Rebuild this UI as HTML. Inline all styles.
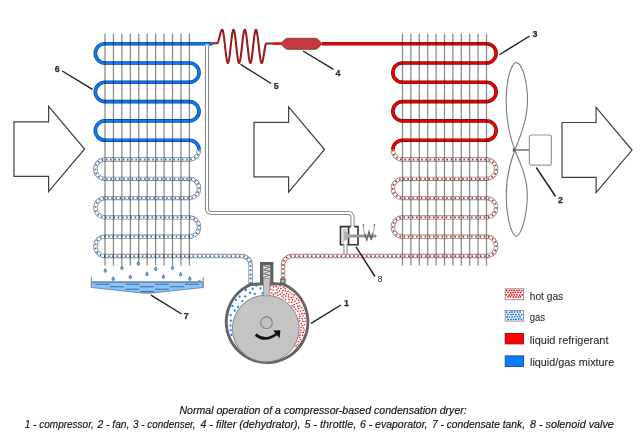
<!DOCTYPE html><html><head><meta charset="utf-8"><style>html,body{margin:0;padding:0;background:#fff;width:640px;height:444px;overflow:hidden}svg{display:block}text{font-family:"Liberation Sans",sans-serif}</style></head><body>
<svg width="640" height="444" viewBox="0 0 640 444">
<defs>
<pattern id="pr" width="3.2" height="3.2" patternUnits="userSpaceOnUse"><rect width="3.2" height="3.2" fill="#fff"/><circle cx="0.8" cy="0.8" r="0.75" fill="#f21a1a"/><circle cx="2.4" cy="2.4" r="0.75" fill="#f21a1a"/></pattern>
<pattern id="pb" width="4.5" height="4.5" patternUnits="userSpaceOnUse"><rect width="4.5" height="4.5" fill="#fff"/><circle cx="1.1" cy="1.1" r="0.8" fill="#1a7fff"/><circle cx="3.35" cy="3.35" r="0.8" fill="#1a7fff"/></pattern>
</defs>
<path d="M14 121.8 L48.6 121.8 L48.6 106.4 L84.6 149 L48.6 191.6 L48.6 176.4 L14 176.4Z" fill="none" stroke="#404040" stroke-width="1.2" stroke-linejoin="miter"/>
<path d="M254 122.3 L288.6 122.3 L288.6 106.9 L324.6 149.5 L288.6 192.1 L288.6 176.9 L254 176.9Z" fill="none" stroke="#404040" stroke-width="1.2" stroke-linejoin="miter"/>
<path d="M562 122.5 L596.1 122.5 L596.1 107.3 L632 150.1 L596.1 192.7 L596.1 177.3 L562 177.3Z" fill="none" stroke="#404040" stroke-width="1.2" stroke-linejoin="miter"/>
<path d="M207 44 L207 209 A4 4 0 0 0 211 213 L348.5 213 A4 4 0 0 1 352.5 217 L352.5 227" fill="none" stroke="#8c8c8c" stroke-width="4.2"/>
<path d="M207 44 L207 209 A4 4 0 0 0 211 213 L348.5 213 A4 4 0 0 1 352.5 217 L352.5 227" fill="none" stroke="#fff" stroke-width="2"/>
<path d="M345.5 244 L345.5 254" fill="none" stroke="#8c8c8c" stroke-width="4.2"/>
<path d="M345.5 244 L345.5 254" fill="none" stroke="#fff" stroke-width="2"/>
<path d="M212.5 43.7 L105 43.7A9.65 9.65 0 0 0 105 63L189.4 63A9.65 9.65 0 0 1 189.4 82.3L105 82.3A9.65 9.65 0 0 0 105 101.6L189.4 101.6A9.65 9.65 0 0 1 189.4 120.9L105 120.9A9.65 9.65 0 0 0 105 140.2L189.4 140.2A9.65 9.65 0 0 1 199.05 149.85" fill="none" stroke="#0b3f82" stroke-width="3.6"/>
<path d="M212.5 43.7 L105 43.7A9.65 9.65 0 0 0 105 63L189.4 63A9.65 9.65 0 0 1 189.4 82.3L105 82.3A9.65 9.65 0 0 0 105 101.6L189.4 101.6A9.65 9.65 0 0 1 189.4 120.9L105 120.9A9.65 9.65 0 0 0 105 140.2L189.4 140.2A9.65 9.65 0 0 1 199.05 149.85" fill="none" stroke="#0a7dff" stroke-width="2.2"/>
<path d="M322 43.7 L486.5 43.7A9.65 9.65 0 0 1 486.5 63L402.5 63A9.65 9.65 0 0 0 402.5 82.3L486.5 82.3A9.65 9.65 0 0 1 486.5 101.6L402.5 101.6A9.65 9.65 0 0 0 402.5 120.9L486.5 120.9A9.65 9.65 0 0 1 486.5 140.2L402.5 140.2A9.65 9.65 0 0 0 392.85 149.85" fill="none" stroke="#7a0808" stroke-width="3.6"/>
<path d="M322 43.7 L486.5 43.7A9.65 9.65 0 0 1 486.5 63L402.5 63A9.65 9.65 0 0 0 402.5 82.3L486.5 82.3A9.65 9.65 0 0 1 486.5 101.6L402.5 101.6A9.65 9.65 0 0 0 402.5 120.9L486.5 120.9A9.65 9.65 0 0 1 486.5 140.2L402.5 140.2A9.65 9.65 0 0 0 392.85 149.85" fill="none" stroke="#f00000" stroke-width="2.2"/>
<path d="M199.05 149.85A9.65 9.65 0 0 1 189.4 159.5L105 159.5A9.65 9.65 0 0 0 105 178.8L189.4 178.8A9.65 9.65 0 0 1 189.4 198.1L105 198.1A9.65 9.65 0 0 0 105 217.4L189.4 217.4A9.65 9.65 0 0 1 189.4 236.7L105 236.7A9.65 9.65 0 0 0 105 256L241.6 256 A9 9 0 0 1 250.6 265 L250.6 285" fill="none" stroke="#888" stroke-width="4.3"/>
<path d="M199.05 149.85A9.65 9.65 0 0 1 189.4 159.5L105 159.5A9.65 9.65 0 0 0 105 178.8L189.4 178.8A9.65 9.65 0 0 1 189.4 198.1L105 198.1A9.65 9.65 0 0 0 105 217.4L189.4 217.4A9.65 9.65 0 0 1 189.4 236.7L105 236.7A9.65 9.65 0 0 0 105 256L241.6 256 A9 9 0 0 1 250.6 265 L250.6 285" fill="none" stroke="#fff" stroke-width="2.5"/>
<path d="M199.05 149.85A9.65 9.65 0 0 1 189.4 159.5L105 159.5A9.65 9.65 0 0 0 105 178.8L189.4 178.8A9.65 9.65 0 0 1 189.4 198.1L105 198.1A9.65 9.65 0 0 0 105 217.4L189.4 217.4A9.65 9.65 0 0 1 189.4 236.7L105 236.7A9.65 9.65 0 0 0 105 256L241.6 256 A9 9 0 0 1 250.6 265 L250.6 285" fill="none" stroke="#106ae0" stroke-width="1.75" stroke-dasharray="1.5 2.72"/>
<path d="M392.85 149.85A9.65 9.65 0 0 0 402.5 159.5L486.5 159.5A9.65 9.65 0 0 1 486.5 178.8L402.5 178.8A9.65 9.65 0 0 0 402.5 198.1L486.5 198.1A9.65 9.65 0 0 1 486.5 217.4L402.5 217.4A9.65 9.65 0 0 0 402.5 236.7L486.5 236.7A9.65 9.65 0 0 1 486.5 256L402.5 256L292 256 A9 9 0 0 0 283 265 L283 281" fill="none" stroke="#888" stroke-width="4.3"/>
<path d="M392.85 149.85A9.65 9.65 0 0 0 402.5 159.5L486.5 159.5A9.65 9.65 0 0 1 486.5 178.8L402.5 178.8A9.65 9.65 0 0 0 402.5 198.1L486.5 198.1A9.65 9.65 0 0 1 486.5 217.4L402.5 217.4A9.65 9.65 0 0 0 402.5 236.7L486.5 236.7A9.65 9.65 0 0 1 486.5 256L402.5 256L292 256 A9 9 0 0 0 283 265 L283 281" fill="none" stroke="#fff" stroke-width="2.5"/>
<path d="M392.85 149.85A9.65 9.65 0 0 0 402.5 159.5L486.5 159.5A9.65 9.65 0 0 1 486.5 178.8L402.5 178.8A9.65 9.65 0 0 0 402.5 198.1L486.5 198.1A9.65 9.65 0 0 1 486.5 217.4L402.5 217.4A9.65 9.65 0 0 0 402.5 236.7L486.5 236.7A9.65 9.65 0 0 1 486.5 256L402.5 256L292 256 A9 9 0 0 0 283 265 L283 281" fill="none" stroke="#d81010" stroke-width="1.75" stroke-dasharray="1.5 2.72"/>
<path d="M105 33.6V265.4M113.44 33.6V265.4M121.88 33.6V265.4M130.32 33.6V265.4M138.76 33.6V265.4M147.2 33.6V265.4M155.64 33.6V265.4M164.08 33.6V265.4M172.52 33.6V265.4M180.96 33.6V265.4M189.4 33.6V265.4M402.5 33.6V265.4M410.9 33.6V265.4M419.3 33.6V265.4M427.7 33.6V265.4M436.1 33.6V265.4M444.5 33.6V265.4M452.9 33.6V265.4M461.3 33.6V265.4M469.7 33.6V265.4M478.1 33.6V265.4M486.5 33.6V265.4" fill="none" stroke="#8a8a8a" stroke-width="1.25" style="mix-blend-mode:multiply"/>
<path d="M212.5 43.3 L217 43.3 L217.32 43.17 L217.65 42.78 L217.97 42.15 L218.3 41.31 L218.62 40.28 L218.95 39.1 L219.28 37.83 L219.6 36.5 L219.92 35.17 L220.25 33.9 L220.57 32.72 L220.9 31.69 L221.22 30.85 L221.55 30.22 L221.88 29.83 L222.2 29.7 L222.56 30.02 L222.91 30.97 L223.27 32.51 L223.62 34.58 L223.98 37.1 L224.34 39.98 L224.69 43.1 L225.05 46.35 L225.41 49.6 L225.76 52.72 L226.12 55.6 L226.47 58.12 L226.83 60.19 L227.19 61.73 L227.54 62.68 L227.9 63 L228.25 62.68 L228.6 61.73 L228.95 60.19 L229.3 58.12 L229.65 55.6 L230 52.72 L230.35 49.6 L230.7 46.35 L231.05 43.1 L231.4 39.98 L231.75 37.1 L232.1 34.58 L232.45 32.51 L232.8 30.97 L233.15 30.02 L233.5 29.7 L233.85 30.02 L234.2 30.97 L234.55 32.51 L234.9 34.58 L235.25 37.1 L235.6 39.98 L235.95 43.1 L236.3 46.35 L236.65 49.6 L237 52.72 L237.35 55.6 L237.7 58.12 L238.05 60.19 L238.4 61.73 L238.75 62.68 L239.1 63 L239.46 62.68 L239.81 61.73 L240.17 60.19 L240.53 58.12 L240.88 55.6 L241.24 52.72 L241.59 49.6 L241.95 46.35 L242.31 43.1 L242.66 39.98 L243.02 37.1 L243.38 34.58 L243.73 32.51 L244.09 30.97 L244.44 30.02 L244.8 29.7 L245.15 30.02 L245.5 30.97 L245.85 32.51 L246.2 34.58 L246.55 37.1 L246.9 39.98 L247.25 43.1 L247.6 46.35 L247.95 49.6 L248.3 52.72 L248.65 55.6 L249 58.12 L249.35 60.19 L249.7 61.73 L250.05 62.68 L250.4 63 L250.74 62.68 L251.09 61.73 L251.43 60.19 L251.78 58.12 L252.12 55.6 L252.46 52.72 L252.81 49.6 L253.15 46.35 L253.49 43.1 L253.84 39.98 L254.18 37.1 L254.53 34.58 L254.87 32.51 L255.21 30.97 L255.56 30.02 L255.9 29.7 L256.26 30.02 L256.62 30.97 L256.99 32.51 L257.35 34.58 L257.71 37.1 L258.07 39.98 L258.44 43.1 L258.8 46.35 L259.16 49.6 L259.52 52.72 L259.89 55.6 L260.25 58.12 L260.61 60.19 L260.97 61.73 L261.34 62.68 L261.7 63 L261.99 62.81 L262.29 62.25 L262.58 61.35 L262.88 60.13 L263.17 58.64 L263.46 56.95 L263.76 55.11 L264.05 53.2 L264.34 51.29 L264.64 49.45 L264.93 47.76 L265.22 46.27 L265.52 45.05 L265.81 44.15 L266.11 43.59 L266.4 43.4 L274 43.5" fill="none" stroke="#8a1212" stroke-width="2.0" stroke-linejoin="round"/>
<path d="M212.5 43.3 L217 43.3 L217.32 43.17 L217.65 42.78 L217.97 42.15 L218.3 41.31 L218.62 40.28 L218.95 39.1 L219.28 37.83 L219.6 36.5 L219.92 35.17 L220.25 33.9 L220.57 32.72 L220.9 31.69 L221.22 30.85 L221.55 30.22 L221.88 29.83 L222.2 29.7 L222.56 30.02 L222.91 30.97 L223.27 32.51 L223.62 34.58 L223.98 37.1 L224.34 39.98 L224.69 43.1 L225.05 46.35 L225.41 49.6 L225.76 52.72 L226.12 55.6 L226.47 58.12 L226.83 60.19 L227.19 61.73 L227.54 62.68 L227.9 63 L228.25 62.68 L228.6 61.73 L228.95 60.19 L229.3 58.12 L229.65 55.6 L230 52.72 L230.35 49.6 L230.7 46.35 L231.05 43.1 L231.4 39.98 L231.75 37.1 L232.1 34.58 L232.45 32.51 L232.8 30.97 L233.15 30.02 L233.5 29.7 L233.85 30.02 L234.2 30.97 L234.55 32.51 L234.9 34.58 L235.25 37.1 L235.6 39.98 L235.95 43.1 L236.3 46.35 L236.65 49.6 L237 52.72 L237.35 55.6 L237.7 58.12 L238.05 60.19 L238.4 61.73 L238.75 62.68 L239.1 63 L239.46 62.68 L239.81 61.73 L240.17 60.19 L240.53 58.12 L240.88 55.6 L241.24 52.72 L241.59 49.6 L241.95 46.35 L242.31 43.1 L242.66 39.98 L243.02 37.1 L243.38 34.58 L243.73 32.51 L244.09 30.97 L244.44 30.02 L244.8 29.7 L245.15 30.02 L245.5 30.97 L245.85 32.51 L246.2 34.58 L246.55 37.1 L246.9 39.98 L247.25 43.1 L247.6 46.35 L247.95 49.6 L248.3 52.72 L248.65 55.6 L249 58.12 L249.35 60.19 L249.7 61.73 L250.05 62.68 L250.4 63 L250.74 62.68 L251.09 61.73 L251.43 60.19 L251.78 58.12 L252.12 55.6 L252.46 52.72 L252.81 49.6 L253.15 46.35 L253.49 43.1 L253.84 39.98 L254.18 37.1 L254.53 34.58 L254.87 32.51 L255.21 30.97 L255.56 30.02 L255.9 29.7 L256.26 30.02 L256.62 30.97 L256.99 32.51 L257.35 34.58 L257.71 37.1 L258.07 39.98 L258.44 43.1 L258.8 46.35 L259.16 49.6 L259.52 52.72 L259.89 55.6 L260.25 58.12 L260.61 60.19 L260.97 61.73 L261.34 62.68 L261.7 63 L261.99 62.81 L262.29 62.25 L262.58 61.35 L262.88 60.13 L263.17 58.64 L263.46 56.95 L263.76 55.11 L264.05 53.2 L264.34 51.29 L264.64 49.45 L264.93 47.76 L265.22 46.27 L265.52 45.05 L265.81 44.15 L266.11 43.59 L266.4 43.4 L274 43.5" fill="none" stroke="#d63030" stroke-width="0.7" stroke-dasharray="1.2 1.2"/>
<path d="M273.5 43.6 L281 43.6" stroke="#e00" stroke-width="2.6"/>
<path d="M280.3 43.7 L285.6 38.9 Q286.4 38.3 287.4 38.3 L315.6 38.3 Q316.6 38.3 317.4 38.9 L322.3 43.7 L317.4 48.6 Q316.6 49.3 315.6 49.3 L287.4 49.3 Q286.4 49.3 285.6 48.6Z" fill="#c13a3d" stroke="#8e2b2b" stroke-width="0.8" stroke-linejoin="round"/>
<rect x="205.2" y="44.2" width="3.6" height="1.6" fill="#cfe3ff"/>
<path d="M91.5 282 H203.2 V287.5 L150 293.2 H144 L91.5 287.5Z" fill="#8cc3f6" stroke="#4d7fb5" stroke-width="0.8"/>
<path d="M91.3 276.6 V288 M203.2 277 V288" fill="none" stroke="#888" stroke-width="1"/>
<path d="M91.5 282 H203.2" stroke="#5a7ea8" stroke-width="1"/>
<path d="M95.5 284.2h13.8M125.5 284.2h13.8M155 284.2h13.8M185 284.2h13.8M110 286.8h13.8M140 286.8h13.8M170 286.8h13.8M125.5 289.3h13.8M155 289.3h13.8M140 291.6h13.8" stroke="#3c6aa0" stroke-width="1.1"/>
<path d="M198 280.2 L201 280.2 L199.5 282Z" fill="#777"/>
<path d="M105.3 268.6 L106.42 270.6 A1.25 1.25 0 1 1 104.18 270.6 Z" fill="#6ab2f8" stroke="#3a6aa6" stroke-width="0.85"/>
<path d="M113.3 276.7 L114.42 278.7 A1.25 1.25 0 1 1 112.18 278.7 Z" fill="#6ab2f8" stroke="#3a6aa6" stroke-width="0.85"/>
<path d="M121.9 265.8 L123.02 267.8 A1.25 1.25 0 1 1 120.78 267.8 Z" fill="#6ab2f8" stroke="#3a6aa6" stroke-width="0.85"/>
<path d="M130.3 274.9 L131.42 276.9 A1.25 1.25 0 1 1 129.18 276.9 Z" fill="#6ab2f8" stroke="#3a6aa6" stroke-width="0.85"/>
<path d="M138.3 261.2 L139.42 263.2 A1.25 1.25 0 1 1 137.18 263.2 Z" fill="#6ab2f8" stroke="#3a6aa6" stroke-width="0.85"/>
<path d="M147 271.9 L148.12 273.9 A1.25 1.25 0 1 1 145.88 273.9 Z" fill="#6ab2f8" stroke="#3a6aa6" stroke-width="0.85"/>
<path d="M155.8 266.8 L156.92 268.8 A1.25 1.25 0 1 1 154.68 268.8 Z" fill="#6ab2f8" stroke="#3a6aa6" stroke-width="0.85"/>
<path d="M163.4 274.6 L164.52 276.6 A1.25 1.25 0 1 1 162.28 276.6 Z" fill="#6ab2f8" stroke="#3a6aa6" stroke-width="0.85"/>
<path d="M172.5 265.8 L173.62 267.8 A1.25 1.25 0 1 1 171.38 267.8 Z" fill="#6ab2f8" stroke="#3a6aa6" stroke-width="0.85"/>
<path d="M180.6 272.3 L181.72 274.3 A1.25 1.25 0 1 1 179.48 274.3 Z" fill="#6ab2f8" stroke="#3a6aa6" stroke-width="0.85"/>
<path d="M189.8 276.6 L190.92 278.6 A1.25 1.25 0 1 1 188.68 278.6 Z" fill="#6ab2f8" stroke="#3a6aa6" stroke-width="0.85"/>
<circle cx="267.1" cy="321.8" r="40.8" fill="#fff"/>
<g fill="#1a80ff"><circle cx="250.12" cy="292.95" r="1.15"/><circle cx="260.67" cy="288.38" r="1.15"/><circle cx="230.68" cy="315.08" r="1.15"/><circle cx="232.46" cy="305.89" r="1.15"/><circle cx="238.01" cy="306.89" r="1.15"/><circle cx="252.71" cy="288.76" r="1.15"/><circle cx="245.3" cy="296.41" r="1.15"/><circle cx="262.51" cy="293.42" r="1.15"/><circle cx="242.28" cy="301.08" r="1.15"/><circle cx="254.89" cy="293.81" r="1.15"/><circle cx="230.76" cy="330.36" r="1.15"/><circle cx="235.85" cy="299.98" r="1.15"/><circle cx="234.84" cy="310.67" r="1.15"/><circle cx="245.95" cy="290.25" r="1.15"/><circle cx="239.53" cy="296.65" r="1.15"/><circle cx="230.51" cy="325.54" r="1.15"/><circle cx="230.84" cy="320.63" r="1.15"/><circle cx="256.25" cy="285.57" r="1.15"/><circle cx="231.42" cy="334.89" r="1.15"/></g>
<g fill="#f01818"><circle cx="280.06" cy="294.27" r="0.82"/><circle cx="302.93" cy="321.34" r="0.82"/><circle cx="277.84" cy="295.26" r="0.82"/><circle cx="282.19" cy="292.6" r="0.82"/><circle cx="300.74" cy="339.74" r="0.82"/><circle cx="301.02" cy="329.95" r="0.82"/><circle cx="285.58" cy="299.46" r="0.82"/><circle cx="302.93" cy="316.04" r="0.82"/><circle cx="302.65" cy="335.24" r="0.82"/><circle cx="291.79" cy="302.34" r="0.82"/><circle cx="275.38" cy="293.31" r="0.82"/><circle cx="300.02" cy="305.86" r="0.82"/><circle cx="287.85" cy="291.51" r="0.82"/><circle cx="273.15" cy="289.98" r="0.82"/><circle cx="304.58" cy="324.5" r="0.82"/><circle cx="299.01" cy="314.01" r="0.82"/><circle cx="285.28" cy="288.58" r="0.82"/><circle cx="273.52" cy="286.73" r="0.82"/><circle cx="298.62" cy="341.74" r="0.82"/><circle cx="280.69" cy="288.47" r="0.82"/><circle cx="292.6" cy="299.87" r="0.82"/><circle cx="288.52" cy="294.72" r="0.82"/><circle cx="301.85" cy="307.87" r="0.82"/><circle cx="276.21" cy="286.69" r="0.82"/><circle cx="297.72" cy="306.38" r="0.82"/><circle cx="299.67" cy="337.61" r="0.82"/><circle cx="276.8" cy="290.05" r="0.82"/><circle cx="300.3" cy="311.05" r="0.82"/><circle cx="299.06" cy="302.54" r="0.82"/><circle cx="304.22" cy="330.09" r="0.82"/><circle cx="283.39" cy="298" r="0.82"/><circle cx="302.54" cy="325.5" r="0.82"/><circle cx="295.79" cy="309.23" r="0.82"/><circle cx="296.46" cy="298.66" r="0.82"/><circle cx="296.1" cy="346.17" r="0.82"/><circle cx="299.85" cy="321.08" r="0.82"/><circle cx="302.17" cy="318.81" r="0.82"/><circle cx="294.95" cy="300.96" r="0.82"/><circle cx="305.27" cy="321.51" r="0.82"/><circle cx="279.48" cy="291.08" r="0.82"/><circle cx="296.82" cy="303.51" r="0.82"/><circle cx="289.05" cy="302.25" r="0.82"/><circle cx="303.34" cy="328.01" r="0.82"/><circle cx="301.84" cy="313.69" r="0.82"/><circle cx="292.23" cy="305.86" r="0.82"/><circle cx="301.16" cy="323.65" r="0.82"/><circle cx="283.88" cy="294.71" r="0.82"/><circle cx="300.6" cy="332.46" r="0.82"/><circle cx="291.97" cy="294.02" r="0.82"/><circle cx="282.99" cy="290.37" r="0.82"/><circle cx="293.08" cy="296.99" r="0.82"/><circle cx="271.79" cy="292.99" r="0.82"/><circle cx="288.55" cy="296.99" r="0.82"/><circle cx="281.98" cy="296.23" r="0.82"/><circle cx="289.06" cy="299.62" r="0.82"/><circle cx="294.08" cy="307.19" r="0.82"/><circle cx="300.03" cy="335.19" r="0.82"/><circle cx="299.87" cy="316.3" r="0.82"/><circle cx="270.73" cy="289.32" r="0.82"/><circle cx="301.16" cy="327.28" r="0.82"/><circle cx="297.82" cy="311.23" r="0.82"/><circle cx="278.24" cy="288.08" r="0.82"/><circle cx="277.53" cy="292.56" r="0.82"/><circle cx="303.1" cy="310.5" r="0.82"/><circle cx="285.79" cy="295.97" r="0.82"/><circle cx="286.42" cy="293.56" r="0.82"/><circle cx="305.07" cy="318.32" r="0.82"/><circle cx="290.12" cy="292.51" r="0.82"/><circle cx="280.06" cy="286.03" r="0.82"/><circle cx="297.6" cy="344.25" r="0.82"/><circle cx="294.18" cy="304.61" r="0.82"/><circle cx="298.65" cy="308.48" r="0.82"/><circle cx="270.54" cy="286.18" r="0.82"/><circle cx="285.36" cy="291.12" r="0.82"/><circle cx="303.26" cy="332.43" r="0.82"/><circle cx="304.25" cy="313.52" r="0.82"/><circle cx="294.2" cy="294.9" r="0.82"/><circle cx="283.39" cy="287.27" r="0.82"/><circle cx="298.35" cy="300.32" r="0.82"/><circle cx="290.94" cy="297.84" r="0.82"/><circle cx="273.46" cy="294.5" r="0.82"/><circle cx="299.23" cy="318.57" r="0.82"/></g>
<path d="M250.4 284.57 A40.8 40.8 0 1 0 283 284.23 L273.6 283.63 L260 283.97 Z" fill="none" stroke="#646464" stroke-width="3"/>
<circle cx="265.8" cy="328.6" r="33.4" fill="#c4c4c4" stroke="#7a7a7a" stroke-width="0.9"/>
<circle cx="266.5" cy="322.7" r="5.8" fill="#c4c4c4" stroke="#808080" stroke-width="1.1"/>
<path d="M255.6 334.6 Q265 342.6 276.6 334" fill="none" stroke="#111" stroke-width="2.7"/>
<path d="M273.2 330.6 L280.4 330.2 L279.6 338.2Z" fill="#111"/>
<path d="M261.6 283 V263.6 H271.8 V283" fill="#e8e8e8" stroke="#5e5e5e" stroke-width="3.2"/>
<path d="M263.2 265.8 L270.2 267.2 L263.2 269.8 L270.2 271.2 L263.2 273.8 L270.2 275.2 L263.2 277.6" fill="none" stroke="#7a7a7a" stroke-width="1.1"/>
<rect x="263.6" y="278.3" width="6.2" height="17.6" fill="#c4c4c4" stroke="#8a8a8a" stroke-width="0.8"/>
<rect x="280.8" y="279" width="4.2" height="4.2" fill="#bbb" stroke="#444" stroke-width="1"/>
<path d="M516.4 62.5 C510.5 63.5 506.2 82 506.2 100.6 C506.2 120 510 137 514.8 150 C520 137 527.5 120 527.5 100.6 C527.5 82 522.5 63.5 516.4 62.5Z" fill="none" stroke="#7a7a7a" stroke-width="1.1"/>
<path d="M514.8 150 C510 163 506.2 177 506.2 194.6 C506.2 214 510.5 234 516.3 236.6 C522 234 527.3 214 527.3 194.6 C527.3 177 520 163 514.8 150Z" fill="none" stroke="#7a7a7a" stroke-width="1.1"/>
<path d="M514.5 150 H529.5" stroke="#777" stroke-width="1.6"/>
<path d="M512.8 148 L515.5 150 L512.8 152Z" fill="#555"/>
<rect x="529.4" y="135" width="22" height="30.2" rx="2.2" fill="#fff" stroke="#999" stroke-width="1.2"/>
<path d="M350.7 226.6 H340.5 V244.7 H343.3" fill="none" stroke="#333" stroke-width="1.6"/>
<path d="M354.3 226.6 H358 V244.7 H347.5 M348.6 226.6 V244.7" fill="none" stroke="#333" stroke-width="1.6"/>
<path d="M343.2 244.5 V229.6 H347.3 V244.5" fill="none" stroke="#aaa" stroke-width="0.8"/>
<path d="M344.3 230.4 L350.4 235.8 L344.3 241.1Z" fill="#b0b0b0" stroke="#9a9a9a" stroke-width="0.6"/>
<path d="M350 236 H375.5" stroke="#959595" stroke-width="3"/>
<path d="M375 234.3 L377 236 L375 237.7Z" fill="#888"/>
<path d="M364.5 233.2 L366.8 240.2 L369 231.6 L371.3 240.2 L373 233" fill="none" stroke="#606060" stroke-width="1.2"/>
<path d="M363.4 224.8 Q363.2 230 364.5 233.2 M374.4 224.8 Q374.6 230 373 233" fill="none" stroke="#888" stroke-width="0.8"/>
<circle cx="363.4" cy="225" r="0.9" fill="#777"/><circle cx="374.4" cy="225" r="0.9" fill="#777"/>
<path d="M311 323.4L341 305M536.25 167.5L555.6 196.5M499.4 54.75L529.75 36M303 51L333.5 69.4M240.6 64.4L271.25 83.5M62.25 71L92.5 89.4M151 295.2L181.6 314M356 246.9L375 276.5" stroke="#222" stroke-width="1.45"/>
<text x="344" y="306" font-size="8.8" font-weight="bold" fill="#2a2a2a" stroke="#2a2a2a" stroke-width="0.25">1</text>
<text x="558" y="202.5" font-size="8.8" font-weight="bold" fill="#2a2a2a" stroke="#2a2a2a" stroke-width="0.25">2</text>
<text x="532.5" y="37" font-size="8.8" font-weight="bold" fill="#2a2a2a" stroke="#2a2a2a" stroke-width="0.25">3</text>
<text x="335.6" y="76" font-size="8.8" font-weight="bold" fill="#2a2a2a" stroke="#2a2a2a" stroke-width="0.25">4</text>
<text x="273.7" y="89" font-size="8.8" font-weight="bold" fill="#2a2a2a" stroke="#2a2a2a" stroke-width="0.25">5</text>
<text x="54.7" y="72" font-size="8.8" font-weight="bold" fill="#2a2a2a" stroke="#2a2a2a" stroke-width="0.25">6</text>
<text x="183.7" y="319" font-size="8.8" font-weight="bold" fill="#2a2a2a" stroke="#2a2a2a" stroke-width="0.25">7</text>
<text x="377.8" y="281.5" font-size="8.6" fill="#222">8</text>
<rect x="505.2" y="288.8" width="18.4" height="10.9" fill="#fff"/>
<g fill="#ee1515"><circle cx="506.67" cy="290.44" r="0.9"/><circle cx="509.5" cy="290.38" r="0.9"/><circle cx="511.8" cy="290.45" r="0.9"/><circle cx="514.16" cy="290.41" r="0.9"/><circle cx="516.98" cy="290.58" r="0.9"/><circle cx="519.21" cy="290.28" r="0.9"/><circle cx="521.75" cy="290.59" r="0.9"/><circle cx="508.09" cy="292.33" r="0.9"/><circle cx="510.81" cy="292.89" r="0.9"/><circle cx="513.17" cy="292.68" r="0.9"/><circle cx="515.42" cy="292.32" r="0.9"/><circle cx="518.19" cy="292.34" r="0.9"/><circle cx="520.54" cy="292.45" r="0.9"/><circle cx="506.42" cy="294.79" r="0.9"/><circle cx="509.21" cy="295.02" r="0.9"/><circle cx="511.81" cy="294.9" r="0.9"/><circle cx="514.35" cy="294.91" r="0.9"/><circle cx="516.87" cy="294.68" r="0.9"/><circle cx="519.75" cy="295.11" r="0.9"/><circle cx="522.2" cy="294.94" r="0.9"/><circle cx="507.86" cy="296.86" r="0.9"/><circle cx="510.4" cy="296.77" r="0.9"/><circle cx="513.23" cy="296.97" r="0.9"/><circle cx="515.83" cy="296.96" r="0.9"/><circle cx="518.45" cy="297.23" r="0.9"/><circle cx="520.43" cy="296.85" r="0.9"/></g>
<rect x="505.2" y="288.8" width="18.4" height="10.9" fill="none" stroke="#8a8a8a" stroke-width="0.9"/>
<rect x="505.2" y="310.6" width="18.4" height="10.5" fill="#fff"/>
<g fill="#1a78f0"><circle cx="506.56" cy="312.31" r="0.95"/><circle cx="509.51" cy="312.41" r="0.95"/><circle cx="511.91" cy="312.04" r="0.95"/><circle cx="514.59" cy="312.04" r="0.95"/><circle cx="517.64" cy="311.98" r="0.95"/><circle cx="520.22" cy="312.03" r="0.95"/><circle cx="507.93" cy="314.5" r="0.95"/><circle cx="510.95" cy="314.6" r="0.95"/><circle cx="513.16" cy="314.4" r="0.95"/><circle cx="515.94" cy="314.76" r="0.95"/><circle cx="519.04" cy="314.72" r="0.95"/><circle cx="521.75" cy="314.69" r="0.95"/><circle cx="506.97" cy="317.05" r="0.95"/><circle cx="509.25" cy="317.09" r="0.95"/><circle cx="512.09" cy="317.03" r="0.95"/><circle cx="514.84" cy="316.83" r="0.95"/><circle cx="517.42" cy="316.83" r="0.95"/><circle cx="520.09" cy="316.65" r="0.95"/><circle cx="508.24" cy="319.39" r="0.95"/><circle cx="511.04" cy="319.33" r="0.95"/><circle cx="513.48" cy="319.36" r="0.95"/><circle cx="515.93" cy="319.32" r="0.95"/><circle cx="518.82" cy="319.02" r="0.95"/><circle cx="521.37" cy="319.23" r="0.95"/></g>
<rect x="505.2" y="310.6" width="18.4" height="10.5" fill="none" stroke="#8a8a8a" stroke-width="0.9"/>
<rect x="505.2" y="333.5" width="18.4" height="10.4" fill="#f00" stroke="#8a1010" stroke-width="0.9"/>
<rect x="505.2" y="355.9" width="18.4" height="10.5" fill="#0a7dff" stroke="#17487f" stroke-width="0.9"/>
<text x="529.8" y="299.5" font-size="11.6" fill="#2a2a36" stroke="#2a2a36" stroke-width="0.1" textLength="33.4" lengthAdjust="spacingAndGlyphs">hot gas</text>
<text x="529.8" y="321.1" font-size="11.6" fill="#2a2a36" stroke="#2a2a36" stroke-width="0.1" textLength="15.3" lengthAdjust="spacingAndGlyphs">gas</text>
<text x="529.8" y="344" font-size="11.6" fill="#2a2a36" stroke="#2a2a36" stroke-width="0.1" textLength="78.7" lengthAdjust="spacingAndGlyphs">liquid refrigerant</text>
<text x="530" y="365.6" font-size="11.6" fill="#2a2a36" stroke="#2a2a36" stroke-width="0.1" textLength="84.2" lengthAdjust="spacingAndGlyphs">liquid/gas mixture</text>
<text x="179.5" y="413.8" font-size="10.6" font-style="italic" fill="#111" stroke="#111" stroke-width="0.15" textLength="287.2" lengthAdjust="spacingAndGlyphs">Normal operation of a compressor-based condensation dryer:</text>
<text x="24.75" y="427.7" font-size="10.6" font-style="italic" fill="#111" stroke="#111" stroke-width="0.15" textLength="69" lengthAdjust="spacingAndGlyphs">1 - compressor,</text>
<text x="97.5" y="427.7" font-size="10.6" font-style="italic" fill="#111" stroke="#111" stroke-width="0.15" textLength="31.9" lengthAdjust="spacingAndGlyphs">2 - fan,</text>
<text x="133.1" y="427.7" font-size="10.6" font-style="italic" fill="#111" stroke="#111" stroke-width="0.15" textLength="62.5" lengthAdjust="spacingAndGlyphs">3 - condenser,</text>
<text x="200.6" y="427.7" font-size="10.6" font-style="italic" fill="#111" stroke="#111" stroke-width="0.15" textLength="100" lengthAdjust="spacingAndGlyphs">4 - filter (dehydrator),</text>
<text x="304.4" y="427.7" font-size="10.6" font-style="italic" fill="#111" stroke="#111" stroke-width="0.15" textLength="51.85" lengthAdjust="spacingAndGlyphs">5 - throttle,</text>
<text x="360" y="427.7" font-size="10.6" font-style="italic" fill="#111" stroke="#111" stroke-width="0.15" textLength="67.5" lengthAdjust="spacingAndGlyphs">6 - evaporator,</text>
<text x="431.9" y="427.7" font-size="10.6" font-style="italic" fill="#111" stroke="#111" stroke-width="0.15" textLength="93.1" lengthAdjust="spacingAndGlyphs">7 - condensate tank,</text>
<text x="530" y="427.7" font-size="10.6" font-style="italic" fill="#111" stroke="#111" stroke-width="0.15" textLength="83.8" lengthAdjust="spacingAndGlyphs">8 - solenoid valve</text>
</svg></body></html>
